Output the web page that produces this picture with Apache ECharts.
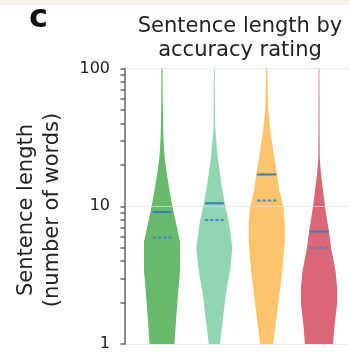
<!DOCTYPE html>
<html>
<head>
<meta charset="UTF-8">
<title></title>
<style>
	html, body { margin: 0; padding: 0; background: #fff; }
	#chart { width: 349px; height: 352px; }
</style>
<script src="https://cdn.jsdelivr.net/npm/echarts@6/dist/echarts.min.js"></script>
</head>
<body>
<div id="chart"></div>
<script>
// accuracy rating groups, left to right (labels are cut off in the figure)
var groups = ['1', '2', '3', '4'];
var colors = ['#66ba69', '#8fd6b1', '#fec46b', '#db6677'];

// violin outlines: [sentence length, width relative to the widest violin]
var profile1 = [[110, 0.02], [100, 0.03], [60, 0.04], [34, 0.07], [26.5, 0.11], [22.5, 0.15], [17.7, 0.25],
	[14.5, 0.36], [11.8, 0.47], [10, 0.58], [9.07, 0.64], [7.22, 0.81], [5.5, 1.0], [3.4, 1.0],
	[2.6, 0.92], [1.5, 0.78], [1.0, 0.69]];
var profile2 = [[110, 0.02], [100, 0.02], [38.6, 0.04], [32.8, 0.08], [22.5, 0.19], [14.5, 0.39],
	[10.5, 0.58], [7.59, 0.81], [4.97, 1.0], [3.36, 0.86], [2.31, 0.64], [1.49, 0.47], [1.0, 0.31]];
var profile3 = [[110, 0.03], [100, 0.04], [67, 0.06], [51, 0.08], [38.6, 0.17], [25.3, 0.36], [17, 0.58],
	[13.2, 0.69], [10, 0.92], [7.59, 1.0], [5.48, 1.0], [3.36, 0.86], [1.96, 0.64], [1.0, 0.36]];
var profile4 = [[110, 0.02], [100, 0.02], [36.7, 0.03], [22.5, 0.04], [17.1, 0.11], [13.2, 0.22], [10, 0.33],
	[7.59, 0.47], [6.44, 0.56], [4.97, 0.67], [3.36, 0.92], [2.59, 1.0], [1.96, 1.0], [1.35, 0.86],
	[1.0, 0.78]];
var profiles = [profile1, profile2, profile3, profile4];

// solid and dashed blue lines
var medians = [9.07, 10.5, 17.0, 6.55];
var means = [5.94, 7.96, 11.0, 4.99];

var yLabels = [1, 10, 100];
var yTicks = [1, 2, 3, 4, 5, 6, 7, 8, 9, 10, 20, 30, 40, 50, 60, 70, 80, 90, 100];

var violinWidth = 0.69; // in category units
var lineWidth = 0.36;
var font = 'DejaVu Sans';

function renderViolin(params, api) {
	var i = params.dataIndex;
	var x = api.value(0);
	var full = api.size([violinWidth, 0])[0];
	var left = [], right = [];
	profiles[i].forEach(function (p) {
		var pt = api.coord([x, p[0]]);
		var half = p[1] * full / 2;
		left.push([pt[0] - half, pt[1]]);
		right.unshift([pt[0] + half, pt[1]]);
	});
	var half = api.size([lineWidth, 0])[0] / 2;
	var med = api.coord([x, medians[i]]);
	var mean = api.coord([x, means[i]]);
	return {
		type: 'group',
		children: [
			{ type: 'polygon', shape: { points: left.concat(right) }, style: { fill: colors[i] } },
			{
				type: 'line',
				shape: { x1: med[0] - half, y1: med[1], x2: med[0] + half, y2: med[1] },
				style: { stroke: '#2f7ec2', lineWidth: 2 }
			},
			{
				type: 'line',
				shape: { x1: mean[0] - half, y1: mean[1], x2: mean[0] + half, y2: mean[1] },
				style: { stroke: '#3a88cf', lineWidth: 2, lineDash: [3.3, 2] }
			}
		]
	};
}

var chart = echarts.init(document.getElementById('chart'));
chart.setOption({
	animation: false,
	graphic: [
		{ type: 'rect', shape: { x: 0, y: 0, width: 349, height: 5 }, style: { fill: '#f4f1ea' } },
		{
			type: 'text', x: 29, y: 19,
			style: { text: 'c', font: 'bold 32px "DejaVu Sans"', fill: '#111', textVerticalAlign: 'middle' }
		},
		{
			type: 'text', x: 240, y: 15,
			style: {
				text: 'Sentence length by\naccuracy rating', font: '21px "DejaVu Sans"', fill: '#222',
				textAlign: 'center', textVerticalAlign: 'top', lineHeight: 23.5
			}
		},
		{
			type: 'text', x: 40, y: 210, rotation: Math.PI / 2,
			style: {
				text: 'Sentence length\n(number of words)', font: '21px "DejaVu Sans"', fill: '#222',
				textAlign: 'center', textVerticalAlign: 'middle', lineHeight: 26
			}
		}
	],
	grid: { left: 125, right: 0, top: 68.5, bottom: 0.5 },
	xAxis: { type: 'value', min: 0.293, max: 4.573, show: false },
	yAxis: [
		{
			type: 'log', logBase: 10, min: 1, max: 100, z: 5,
			axisLine: { show: true, lineStyle: { color: '#666', width: 1.5 } },
			axisTick: { show: false },
			axisLabel: {
				margin: 15, fontFamily: font, fontSize: 16, color: '#222',
				customValues: yLabels
			},
			splitLine: { show: true, lineStyle: { color: 'rgba(225,225,225,0.7)', width: 1 } }
		},
		{
			type: 'value', min: 0, max: 2, z: 5, position: 'left',
			axisLine: { show: false },
			axisLabel: { show: false },
			splitLine: { show: false },
			axisTick: {
				show: true, length: 4.5, lineStyle: { color: '#666', width: 1.5 },
				customValues: yTicks.map(function (v) { return Math.log10(v); })
			}
		}
	],
	series: [{
		type: 'custom',
		clip: true,
		renderItem: renderViolin,
		encode: { x: 0, y: 1 },
		data: groups.map(function (g, i) { return [i + 1, medians[i]]; })
	}]
});
</script>
</body>
</html>
